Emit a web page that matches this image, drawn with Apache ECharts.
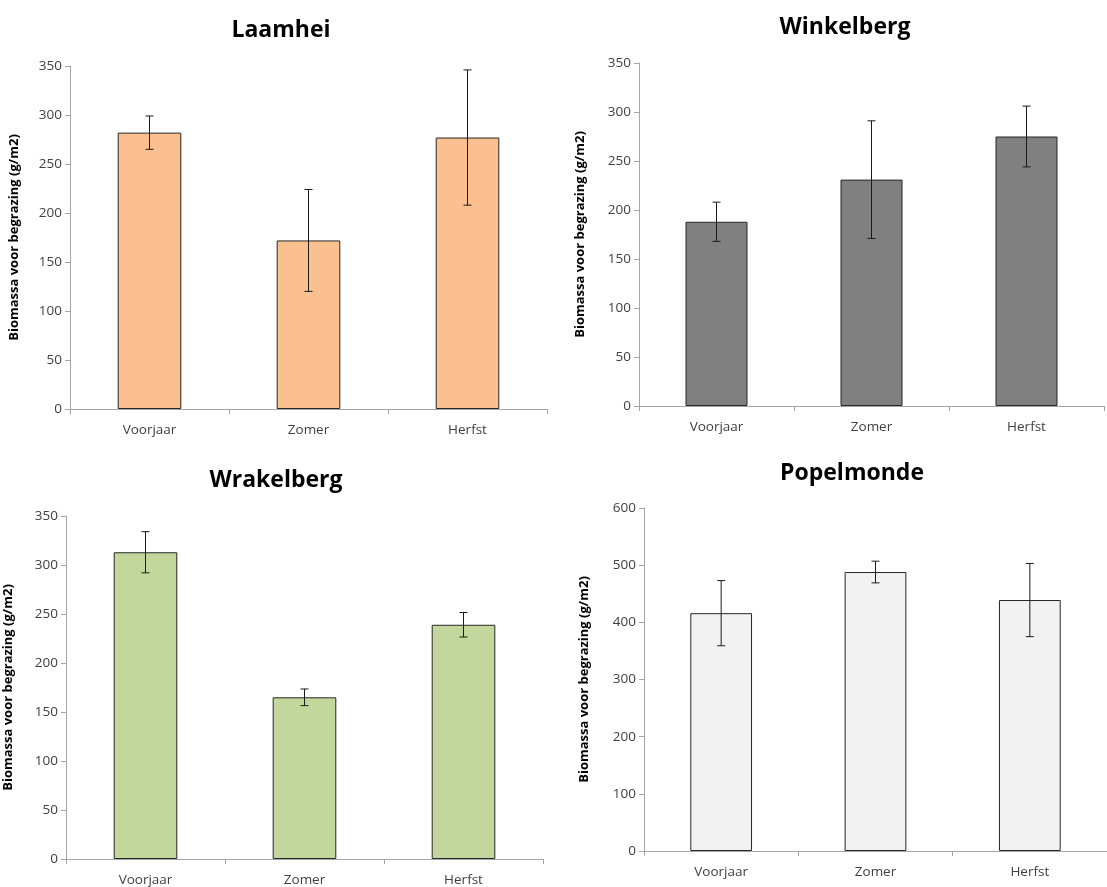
<!DOCTYPE html>
<html>
<head>
<meta charset="utf-8">
<script src="https://cdn.jsdelivr.net/npm/echarts@6/dist/echarts.min.js"></script>
<style>
  html, body { margin: 0; padding: 0; background: #fff; }
  #chart { width: 1107px; height: 887px; }
</style>
</head>
<body>
<div id="chart"></div>
<script>
// Seasons on the x axis
const categories = ['Voorjaar', 'Zomer', 'Herfst'];

// Mean biomass before grazing (g/m2) and error (±) per site
const laamheiMean = [282, 172, 277];
const laamheiErr = [17, 52, 69];

const winkelbergMean = [188, 231, 275];
const winkelbergErr = [20, 60, 31];

const wrakelbergMean = [313, 165, 239];
const wrakelbergErr = [21, 8.5, 12.5];

const popelmondeMean = [416, 488, 439];
const popelmondeErr = [57, 19, 64];

const siteNames = ['Laamhei', 'Winkelberg', 'Wrakelberg', 'Popelmonde'];
const yAxisName = 'Biomassa voor begrazing (g/m2)';

const FONT = '"Open Sans", "Liberation Sans", sans-serif';

const panels = [
  { name: siteNames[0], mean: laamheiMean, err: laamheiErr, color: '#FAC090', max: 350, step: 50,
    grid: { left: 70, top: 66, width: 477, height: 343 }, title: [281, 30], nameGap: 49 },
  { name: siteNames[1], mean: winkelbergMean, err: winkelbergErr, color: '#808080', max: 350, step: 50,
    grid: { left: 639, top: 63, width: 465, height: 343 }, title: [845, 27], nameGap: 52 },
  { name: siteNames[2], mean: wrakelbergMean, err: wrakelbergErr, color: '#C3D69B', max: 350, step: 50,
    grid: { left: 66, top: 516, width: 477, height: 343 }, title: [276, 480], nameGap: 51 },
  { name: siteNames[3], mean: popelmondeMean, err: popelmondeErr, color: '#F2F2F2', max: 600, step: 100,
    grid: { left: 644, top: 508, width: 466, height: 343 }, title: [852, 473], nameGap: 53 }
];

const axisGray = '#a6a6a6';
const labelColor = '#404040';

const grid = [], xAxis = [], yAxis = [], series = [], graphic = [];

panels.forEach((p, i) => {
  grid.push(Object.assign({ containLabel: false }, p.grid));

  xAxis.push({
    type: 'category',
    gridIndex: i,
    data: categories,
    axisLine: { lineStyle: { color: axisGray, width: 1 } },
    axisTick: { show: true, length: 5, lineStyle: { color: axisGray } },
    axisLabel: { color: labelColor, fontFamily: FONT, fontSize: 13.5, margin: 14 }
  });

  yAxis.push({
    type: 'value',
    gridIndex: i,
    min: 0,
    max: p.max,
    interval: p.step,
    name: yAxisName,
    nameLocation: 'middle',
    nameGap: p.nameGap,
    nameRotate: 90,
    nameTextStyle: { color: '#000', fontFamily: FONT, fontSize: 13, fontWeight: 'bold' },
    axisLine: { show: true, lineStyle: { color: axisGray, width: 1 } },
    axisTick: { show: true, length: 5, lineStyle: { color: axisGray } },
    splitLine: { show: false },
    axisLabel: { color: labelColor, fontFamily: FONT, fontSize: 13.5, margin: 8 }
  });

  series.push({
    type: 'bar',
    xAxisIndex: i,
    yAxisIndex: i,
    data: p.mean,
    barWidth: '40%',
    itemStyle: { color: p.color, borderColor: '#262626', borderWidth: 1 },
    silent: true
  });

  // Error bars: vertical whisker with short caps
  series.push({
    type: 'custom',
    xAxisIndex: i,
    yAxisIndex: i,
    z: 5,
    silent: true,
    data: p.mean.map((m, k) => [k, m, p.err[k]]),
    encode: { x: 0, y: 1 },
    renderItem: function (params, api) {
      const idx = api.value(0);
      const m = api.value(1);
      const e = api.value(2);
      const hi = api.coord([idx, m + e]);
      const lo = api.coord([idx, m - e]);
      const cap = 4;
      const style = { stroke: '#1a1a1a', lineWidth: 1 };
      return {
        type: 'group',
        children: [
          { type: 'line', shape: { x1: hi[0], y1: hi[1], x2: lo[0], y2: lo[1] }, style: style },
          { type: 'line', shape: { x1: hi[0] - cap, y1: hi[1], x2: hi[0] + cap, y2: hi[1] }, style: style },
          { type: 'line', shape: { x1: lo[0] - cap, y1: lo[1], x2: lo[0] + cap, y2: lo[1] }, style: style }
        ]
      };
    }
  });

  graphic.push({
    type: 'text',
    x: p.title[0],
    y: p.title[1],
    style: {
      text: p.name,
      fill: '#000',
      font: 'bold 23px ' + FONT,
      textAlign: 'center',
      textVerticalAlign: 'middle'
    }
  });
});

const chart = echarts.init(document.getElementById('chart'), null, { renderer: 'canvas' });
chart.setOption({
  backgroundColor: '#ffffff',
  animation: false,
  grid: grid,
  xAxis: xAxis,
  yAxis: yAxis,
  series: series,
  graphic: graphic
});
</script>
</body>
</html>
